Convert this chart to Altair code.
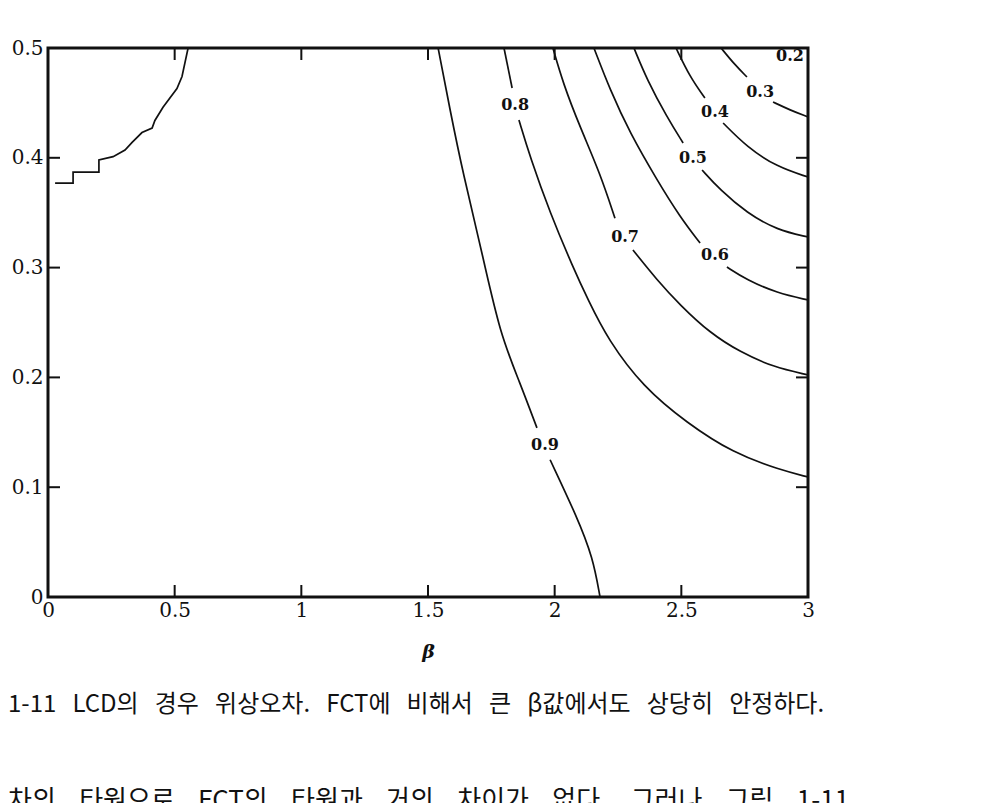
import altair as alt
import pandas as pd

# ---------------- data ----------------
# contour 0.9 (points before the label, then after)
c09_x = [1.540, 1.587, 1.638, 1.717, 1.784, 1.863, 1.930, 1.982, 2.088, 2.151, 2.179]
c09_y = [0.500, 0.4435, 0.386, 0.310, 0.240, 0.195, 0.154, 0.125, 0.073, 0.036, 0.0]
c09_split = 7

c08_x = [1.800, 1.832, 1.859, 1.903, 1.982, 2.072, 2.132, 2.211, 2.349, 2.522, 2.704, 2.890, 3.0]
c08_y = [0.500, 0.4636, 0.4344, 0.4007, 0.3497, 0.3005, 0.2705, 0.2341, 0.1913, 0.1585, 0.1311, 0.1157, 0.1093]
c08_split = 2

c07_x = [1.993, 2.033, 2.100, 2.179, 2.238, 2.309, 2.404, 2.495, 2.613, 2.732, 2.862, 3.0]
c07_y = [0.500, 0.468, 0.428, 0.386, 0.345, 0.316, 0.2887, 0.2659, 0.2404, 0.2231, 0.2095, 0.2022]
c07_split = 5

c06_x = [2.155, 2.219, 2.297, 2.404, 2.495, 2.574, 2.680, 2.759, 2.878, 3.0]
c06_y = [0.500, 0.4617, 0.4226, 0.3798, 0.3461, 0.3224, 0.3005, 0.2887, 0.2769, 0.2705]
c06_split = 6

c05_x = [2.313, 2.365, 2.443, 2.507, 2.582, 2.653, 2.759, 2.878, 3.0]
c05_y = [0.500, 0.4709, 0.4372, 0.4135, 0.3889, 0.3707, 0.3497, 0.3342, 0.3279]
c05_split = 4

c04_x = [2.479, 2.534, 2.593, 2.665, 2.759, 2.878, 3.0]
c04_y = [0.500, 0.4736, 0.4545, 0.4317, 0.4098, 0.3916, 0.3825]
c04_split = 3

c03_x = [2.657, 2.712, 2.759, 2.862, 2.929, 3.0]
c03_y = [0.500, 0.4845, 0.4736, 0.4508, 0.4435, 0.4372]
c03_split = 3

# stepped boundary in the upper-left corner
edge_x = [0.028, 0.099, 0.099, 0.201, 0.201, 0.257, 0.304, 0.332, 0.371, 0.411, 0.422, 0.454, 0.509, 0.529, 0.553]
edge_y = [0.377, 0.377, 0.387, 0.387, 0.398, 0.401, 0.407, 0.414, 0.423, 0.427, 0.434, 0.446, 0.463, 0.474, 0.500]

# contour labels
label_text = ["0.9", "0.8", "0.7", "0.6", "0.5", "0.4", "0.3", "0.2"]
label_x = [1.962, 1.844, 2.278, 2.633, 2.546, 2.633, 2.811, 2.929]
label_y = [0.138, 0.448, 0.328, 0.3115, 0.3998, 0.4417, 0.460, 0.4927]

# axes
x_ticks = [0, 0.5, 1, 1.5, 2, 2.5, 3]
y_ticks = [0, 0.1, 0.2, 0.3, 0.4, 0.5]
x_inner_ticks = [0.5, 1, 1.5, 2, 2.5]
y_inner_ticks = [0.1, 0.2, 0.3, 0.4]

caption1_words = ["1-11", "LCD의", "경우", "위상오차.", "FCT에", "비해서", "큰", "β값에서도", "상당히", "안정하다."]
caption2_words = ["차의", "타원으로", "FCT의", "타원과", "거의", "차이가", "없다.", "그러나", "그림", "1-11"]

# ---------------- build tables ----------------
contours = {
    "0.9": (c09_x, c09_y, c09_split),
    "0.8": (c08_x, c08_y, c08_split),
    "0.7": (c07_x, c07_y, c07_split),
    "0.6": (c06_x, c06_y, c06_split),
    "0.5": (c05_x, c05_y, c05_split),
    "0.4": (c04_x, c04_y, c04_split),
    "0.3": (c03_x, c03_y, c03_split),
}
rows = []
for lev, (xs, ys, k) in contours.items():
    for i, (x, y) in enumerate(zip(xs, ys)):
        rows.append({"seg": f"{lev}-{'a' if i < k else 'b'}", "x": x, "y": y, "i": i})
lines_df = pd.DataFrame(rows)
edge_df = pd.DataFrame({"x": edge_x, "y": edge_y, "i": list(range(len(edge_x)))})
labels_df = pd.DataFrame({"x": label_x, "y": label_y, "t": label_text})

NBSP = "\u00a0"
caption1 = (" " + NBSP * 2).join(caption1_words)
caption2 = (" " + NBSP * 3).join(caption2_words)

W, H = 760, 549
INK = "#111111"
SERIF = "DejaVu Serif"

xscale = alt.Scale(domain=[0, 3], nice=False, zero=False)
yscale = alt.Scale(domain=[0, 0.5], nice=False, zero=False)
xaxis = alt.Axis(values=x_ticks, format=".1~f", ticks=False, domain=False, grid=False,
                 labelFont=SERIF, labelFontSize=20, labelColor=INK, labelPadding=3,
                 labelFlush=False, title="β", titleFont=SERIF, titleFontStyle="italic",
                 titleFontWeight="bold", titleFontSize=19, titleColor=INK, titlePadding=22)
yaxis = alt.Axis(values=y_ticks, format=".1~f", ticks=False, domain=False, grid=False,
                 labelFont=SERIF, labelFontSize=20, labelColor=INK, labelPadding=5,
                 labelFlush=False, title=None)


def X():
    return alt.X("x:Q", scale=xscale, axis=xaxis)


def Y():
    return alt.Y("y:Q", scale=yscale, axis=yaxis)


contour_lines = alt.Chart(lines_df).mark_line(
    interpolate="basis", color=INK, strokeWidth=1.7, clip=True
).encode(x=X(), y=Y(), detail="seg:N", order="i:Q")

edge_line = alt.Chart(edge_df).mark_line(color=INK, strokeWidth=1.7, clip=True).encode(
    x=X(), y=Y(), order="i:Q")

labels = alt.Chart(labels_df).mark_text(
    font=SERIF, fontWeight="bold", fontSize=16, color=INK
).encode(x=X(), y=Y(), text="t:N")

tick_x_df = pd.DataFrame({"x": x_inner_ticks})
tick_y_df = pd.DataFrame({"y": y_inner_ticks})
bottom_ticks = alt.Chart(tick_x_df).mark_rule(color=INK, strokeWidth=2).encode(
    x=X(), y=alt.value(H), y2=alt.value(H - 12))
top_ticks = alt.Chart(tick_x_df).mark_rule(color=INK, strokeWidth=2).encode(
    x=X(), y=alt.value(0), y2=alt.value(12))
left_ticks = alt.Chart(tick_y_df).mark_rule(color=INK, strokeWidth=2).encode(
    y=Y(), x=alt.value(0), x2=alt.value(12))
right_ticks = alt.Chart(tick_y_df).mark_rule(color=INK, strokeWidth=2).encode(
    y=Y(), x=alt.value(W - 12), x2=alt.value(W))

cap1 = alt.Chart(pd.DataFrame({"t": [caption1]})).mark_text(
    font="Noto Sans CJK KR", fontSize=24, color=INK, align="left", baseline="alphabetic"
).encode(text="t:N", x=alt.value(-40), y=alt.value(664))
cap2 = alt.Chart(pd.DataFrame({"t": [caption2]})).mark_text(
    font="Noto Sans CJK KR", fontSize=26, color=INK, align="left", baseline="alphabetic"
).encode(text="t:N", x=alt.value(-40), y=alt.value(761))

chart = alt.layer(
    contour_lines, edge_line, labels, bottom_ticks, top_ticks, left_ticks, right_ticks, cap1, cap2
).properties(
    width=W, height=H,
    autosize=alt.AutoSizeParams(type="none"),
    padding={"left": 40, "top": 40, "right": 180, "bottom": 206},
    background="white",
).configure_view(stroke=INK, strokeWidth=3)

chart.save("out.html", embed_options={"renderer": "svg", "actions": False})
